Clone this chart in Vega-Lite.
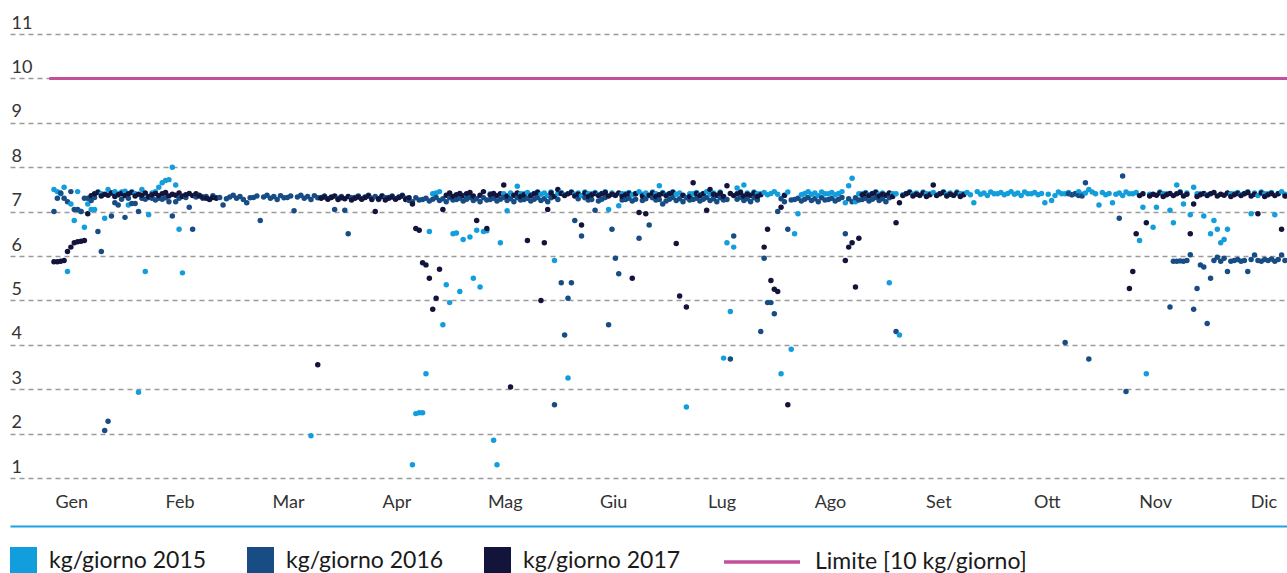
{
"$schema":"https://vega.github.io/schema/vega-lite/v6.json",
"width":1277,"height":444,
"autosize":{"type":"none"},
"padding":{"left":10,"top":34,"right":0,"bottom":95},
"background":"white",
"config":{"view":{"stroke":null},"font":"Lato"},
"datasets":{
"giorni":[
{"d":1,"a":7.50,"b":7.00,"c":5.87},{"d":2,"a":7.45,"b":7.30,"c":5.87},{"d":3,"a":7.40,"b":7.42,"c":5.88},{"d":4,"a":7.55,"b":7.30,"c":5.90},{"d":5,"a":5.65,"b":7.22,"c":6.10},
{"d":6,"a":7.17,"b":7.45,"c":6.20},{"d":7,"a":6.80,"b":7.05,"c":6.30},{"d":8,"a":7.45,"b":7.05,"c":6.32},{"d":9,"a":7.00,"b":7.00,"c":6.33},{"d":10,"a":6.65,"b":7.30,"c":6.35},
{"d":11,"a":7.17,"b":7.30,"c":6.95},{"d":12,"a":7.05,"b":7.25,"c":7.36},{"d":13,"a":7.05,"b":7.32,"c":7.40},{"d":14,"a":7.45,"b":6.55,"c":7.43},{"d":15,"a":7.40,"b":6.10,"c":7.35},
{"d":16,"a":6.85,"b":2.07,"c":7.39},{"d":17,"a":7.50,"b":2.28,"c":7.37},{"d":18,"a":7.42,"b":6.90,"c":7.42},{"d":19,"a":7.45,"b":7.20,"c":7.34},{"d":20,"a":7.40,"b":7.15,"c":7.38},
{"d":21,"a":7.44,"b":7.28,"c":7.41},{"d":22,"a":7.46,"b":6.87,"c":7.36},{"d":23,"a":7.15,"b":7.30,"c":7.40},{"d":24,"a":7.45,"b":7.18,"c":7.43},{"d":25,"a":7.40,"b":7.18,"c":7.35},
{"d":26,"a":2.93,"b":7.00,"c":7.39},{"d":27,"a":7.50,"b":7.30,"c":7.37},{"d":28,"a":5.65,"b":7.28,"c":7.42},{"d":29,"a":6.93,"b":7.32,"c":7.34},{"d":30,"a":7.42,"b":7.30,"c":7.38},
{"d":31,"a":7.45,"b":7.26,"c":7.41},{"d":32,"a":7.55,"b":7.30,"c":7.36},{"d":33,"a":7.65,"b":7.28,"c":7.40},{"d":34,"a":7.70,"b":7.31,"c":7.43},{"d":35,"a":7.72,"b":7.22,"c":7.35},
{"d":36,"a":8.00,"b":6.90,"c":7.39},{"d":37,"a":7.60,"b":7.22,"c":7.37},{"d":38,"a":6.60,"b":7.30,"c":7.42},{"d":39,"a":5.62,"b":7.35,"c":7.34},{"d":40,"b":7.32,"c":7.38},
{"d":41,"b":7.10,"c":7.41},{"d":42,"b":6.60,"c":7.36},{"d":43,"b":7.33,"c":7.40},{"d":44,"b":7.37,"c":7.35},{"d":45,"b":7.30,"c":7.33},
{"d":46,"b":7.34,"c":7.30},{"d":47,"b":7.27,"c":7.28},{"d":48,"b":7.36,"c":7.32},{"d":49,"b":7.31,"c":7.30},{"d":50,"b":7.32},
{"d":51,"b":7.15},{"d":52,"b":7.29},{"d":53,"b":7.33},{"d":54,"b":7.37},{"d":55,"b":7.30},
{"d":56,"b":7.34},{"d":57,"b":7.27},{"d":58,"b":7.20},{"d":59,"b":7.31},{"d":60,"b":7.32},
{"d":61,"b":7.35},{"d":62,"b":6.80},{"d":63,"b":7.33},{"d":64,"b":7.37},{"d":65,"b":7.30},
{"d":66,"b":7.34},{"d":67,"b":7.27},{"d":68,"b":7.36},{"d":69,"b":7.31},{"d":70,"b":7.32},
{"d":71,"b":7.35},{"d":72,"b":7.02},{"d":73,"b":7.33},{"d":74,"b":7.37},{"d":75,"b":7.30},
{"d":76,"b":7.34},{"d":77,"a":1.95,"b":7.27},{"d":78,"b":7.36},{"d":79,"b":7.31,"c":3.55},{"d":80,"b":7.32,"c":7.30},
{"d":81,"b":7.35,"c":7.33},{"d":82,"b":7.29,"c":7.28},{"d":83,"b":7.33,"c":7.32},{"d":84,"b":7.05,"c":7.35},{"d":85,"b":7.30,"c":7.27},
{"d":86,"b":7.34,"c":7.31},{"d":87,"b":7.03,"c":7.29},{"d":88,"b":6.50,"c":7.34},{"d":89,"b":7.31,"c":7.26},{"d":90,"b":7.32,"c":7.30},
{"d":91,"b":7.35,"c":7.33},{"d":92,"b":7.29,"c":7.28},{"d":93,"b":7.33,"c":7.32},{"d":94,"b":7.37,"c":7.35},{"d":95,"b":7.30,"c":7.27},
{"d":96,"b":7.34,"c":7.00},{"d":97,"b":7.27,"c":7.29},{"d":98,"b":7.36,"c":7.34},{"d":99,"b":7.31,"c":7.26},{"d":100,"b":7.32,"c":7.30},
{"d":101,"b":7.35,"c":7.33},{"d":102,"b":7.29,"c":7.28},{"d":103,"b":7.33,"c":7.32},{"d":104,"b":7.37,"c":7.35},{"d":105,"b":7.30,"c":7.27},
{"d":106,"b":7.25,"c":7.31},{"d":107,"a":1.30,"b":7.22,"c":7.17},{"d":108,"a":2.45,"b":7.31,"c":6.62},{"d":109,"a":2.47,"b":7.26,"c":6.58},{"d":110,"a":2.47,"b":7.27,"c":5.85},
{"d":111,"a":3.35,"b":7.30,"c":5.80},{"d":112,"a":6.55,"b":7.24,"c":5.50},{"d":113,"a":7.40,"b":7.28,"c":4.80},{"d":114,"a":7.42,"b":7.32,"c":5.05},{"d":115,"a":7.45,"b":7.25,"c":5.70},
{"d":116,"a":4.45,"b":7.29,"c":7.05},{"d":117,"a":5.35,"b":7.22,"c":7.37},{"d":118,"a":4.95,"b":7.31,"c":7.42},{"d":119,"a":6.50,"b":7.26,"c":7.34},{"d":120,"a":6.52,"b":7.27,"c":7.38},
{"d":121,"a":5.20,"b":7.30,"c":7.41},{"d":122,"a":6.37,"b":7.24,"c":7.36},{"d":123,"a":7.38,"b":7.28,"c":7.40},{"d":124,"a":6.43,"b":7.32,"c":7.43},{"d":125,"a":5.50,"b":7.25,"c":7.35},
{"d":126,"a":6.58,"b":7.29,"c":6.80},{"d":127,"a":5.30,"b":7.22,"c":7.37},{"d":128,"a":6.55,"b":7.31,"c":7.45},{"d":129,"a":6.57,"b":7.26,"c":6.62},{"d":130,"a":7.40,"b":7.27,"c":7.38},
{"d":131,"a":1.85,"b":7.30,"c":7.41},{"d":132,"a":1.30,"b":7.24,"c":7.36},{"d":133,"a":6.30,"b":7.28,"c":7.40},{"d":134,"a":7.40,"b":7.32,"c":7.60},{"d":135,"a":7.02,"b":7.25,"c":7.35},
{"d":136,"a":7.42,"b":7.29,"c":3.05},{"d":137,"a":7.36,"b":7.22,"c":7.37},{"d":138,"a":7.57,"b":7.31,"c":7.42},{"d":139,"a":7.40,"b":7.26,"c":7.34},{"d":140,"a":7.40,"b":7.27,"c":7.38},
{"d":141,"a":7.43,"b":7.30,"c":6.35},{"d":142,"a":7.38,"b":7.24,"c":7.36},{"d":143,"a":7.41,"b":7.28,"c":7.40},{"d":144,"a":7.45,"b":7.32,"c":7.43},{"d":145,"a":7.39,"b":7.25,"c":5.00},
{"d":146,"a":7.42,"b":7.29,"c":6.30},{"d":147,"a":7.36,"b":7.22,"c":7.05},{"d":148,"a":7.44,"b":7.31,"c":7.42},{"d":149,"a":5.90,"b":2.65,"c":7.34},{"d":150,"a":7.40,"b":7.27,"c":7.50},
{"d":151,"a":7.43,"b":5.40,"c":7.41},{"d":152,"a":7.38,"b":4.22,"c":7.36},{"d":153,"a":3.25,"b":5.05,"c":7.40},{"d":154,"a":7.45,"b":5.40,"c":7.43},{"d":155,"a":7.39,"b":6.80,"c":7.35},
{"d":156,"a":7.42,"b":7.29,"c":7.39},{"d":157,"a":7.36,"b":6.45,"c":6.70},{"d":158,"a":7.44,"b":7.31,"c":7.42},{"d":159,"a":7.40,"b":7.26,"c":7.34},{"d":160,"a":7.40,"b":7.27,"c":7.38},
{"d":161,"a":7.43,"b":7.03,"c":7.41},{"d":162,"a":7.38,"b":7.24,"c":7.36},{"d":163,"a":7.41,"b":7.28,"c":7.40},{"d":164,"a":7.45,"b":7.32,"c":7.43},{"d":165,"a":7.05,"b":4.45,"c":7.35},
{"d":166,"a":7.42,"b":6.60,"c":7.39},{"d":167,"a":7.36,"b":5.95,"c":7.37},{"d":168,"a":7.13,"b":5.60,"c":7.42},{"d":169,"a":7.40,"b":7.26,"c":7.34},{"d":170,"a":7.40,"b":7.27,"c":7.38},
{"d":171,"a":7.43,"b":7.30,"c":7.41},{"d":172,"a":7.38,"b":7.24,"c":5.50},{"d":173,"a":7.41,"b":7.28,"c":7.40},{"d":174,"a":7.45,"b":6.40,"c":6.98},{"d":175,"a":7.39,"b":7.25,"c":7.35},
{"d":176,"a":7.42,"b":7.29,"c":6.95},{"d":177,"a":7.36,"b":6.70,"c":7.37},{"d":178,"a":7.44,"b":7.31,"c":7.42},{"d":179,"a":7.40,"b":7.26,"c":7.34},{"d":180,"a":7.58,"b":7.27,"c":7.38},
{"d":181,"a":7.43,"b":7.17,"c":7.41},{"d":182,"a":7.38,"b":7.24,"c":7.36},{"d":183,"a":7.41,"b":7.28,"c":7.40},{"d":184,"a":7.45,"b":7.32,"c":7.43},{"d":185,"a":7.39,"b":7.25,"c":6.28},
{"d":186,"a":7.42,"b":7.29,"c":5.10},{"d":187,"a":7.36,"b":7.22,"c":7.37},{"d":188,"a":2.60,"b":7.31,"c":4.85},{"d":189,"a":7.40,"b":7.26,"c":7.34},{"d":190,"a":7.40,"b":7.27,"c":7.65},
{"d":191,"a":7.43,"b":7.30,"c":7.41},{"d":192,"a":7.38,"b":7.24,"c":7.36},{"d":193,"a":7.41,"b":7.28,"c":7.40},{"d":194,"a":7.45,"b":7.32,"c":7.03},{"d":195,"a":7.39,"b":7.25,"c":7.50},
{"d":196,"a":7.42,"b":7.29,"c":7.39},{"d":197,"a":7.36,"b":7.22,"c":7.37},{"d":198,"a":7.44,"b":7.31,"c":7.42},{"d":199,"a":3.70,"b":7.26,"c":7.34},{"d":200,"a":6.30,"b":7.27,"c":7.58},
{"d":201,"a":4.75,"b":3.68,"c":7.41},{"d":202,"a":6.20,"b":6.45,"c":7.36},{"d":203,"a":7.53,"b":7.28,"c":7.40},{"d":204,"a":7.45,"b":7.32,"c":7.43},{"d":205,"a":7.60,"b":7.25,"c":7.35},
{"d":206,"a":7.42,"b":7.29,"c":7.39},{"d":207,"a":7.36,"b":7.22,"c":7.37},{"d":208,"a":7.44,"b":7.31,"c":7.42},{"d":209,"a":7.40,"b":7.26,"c":7.34},{"d":210,"a":7.40,"b":4.30,"c":7.38},
{"d":211,"a":7.43,"b":5.95,"c":6.20},{"d":212,"a":7.38,"b":4.95,"c":6.60},{"d":213,"a":7.41,"b":4.95,"c":5.45},{"d":214,"a":7.45,"b":4.70,"c":5.25},{"d":215,"a":7.39,"b":7.00,"c":5.20},
{"d":216,"a":3.35,"b":7.29,"c":7.10},{"d":217,"a":7.36,"b":7.22,"c":7.37},{"d":218,"a":7.44,"b":6.60,"c":2.65},{"d":219,"a":3.90,"b":7.26},{"d":220,"a":6.50,"b":7.27},
{"d":221,"a":6.95,"b":7.30},{"d":222,"a":7.38,"b":7.24},{"d":223,"a":7.41,"b":7.28},{"d":224,"a":7.45,"b":7.32},{"d":225,"a":7.39,"b":7.25},
{"d":226,"a":7.42,"b":7.29},{"d":227,"a":7.36,"b":7.22},{"d":228,"a":7.44,"b":7.31},{"d":229,"a":7.40,"b":7.26},{"d":230,"a":7.40,"b":7.27},
{"d":231,"a":7.43,"b":7.30},{"d":232,"a":7.38,"b":7.24},{"d":233,"a":7.41,"b":7.28},{"d":234,"a":7.45,"b":7.32},{"d":235,"a":7.20,"b":6.50,"c":5.90},
{"d":236,"a":7.58,"b":7.29,"c":6.20},{"d":237,"a":7.75,"b":7.22,"c":6.30},{"d":238,"a":7.22,"b":7.31,"c":5.30},{"d":239,"a":7.40,"b":7.26,"c":6.40},{"d":240,"a":7.40,"b":7.27,"c":7.38},
{"d":241,"a":7.43,"b":7.30,"c":7.41},{"d":242,"a":7.38,"b":7.24,"c":7.36},{"d":243,"a":7.41,"b":7.28,"c":7.40},{"d":244,"a":7.45,"b":7.32,"c":7.43},{"d":245,"a":7.39,"b":7.25,"c":7.35},
{"d":246,"a":7.42,"b":7.29,"c":7.39},{"d":247,"a":7.36,"b":7.22,"c":7.37},{"d":248,"a":5.40,"b":7.31,"c":7.42},{"d":249,"a":7.40,"c":7.34},{"d":250,"a":7.40,"b":4.30,"c":6.75},
{"d":251,"a":4.22,"c":7.20},{"d":252,"a":7.38,"c":7.36},{"d":253,"a":7.41,"c":7.40},{"d":254,"a":7.45,"c":7.43},{"d":255,"a":7.39,"c":7.35},
{"d":256,"a":7.42,"c":7.39},{"d":257,"a":7.36,"c":7.37},{"d":258,"a":7.44,"c":7.42},{"d":259,"a":7.40,"c":7.34},{"d":260,"a":7.40,"c":7.38},
{"d":261,"a":7.43,"c":7.60},{"d":262,"a":7.38,"c":7.36},{"d":263,"a":7.41,"c":7.40},{"d":264,"a":7.45,"c":7.43},{"d":265,"a":7.39,"c":7.35},
{"d":266,"a":7.42,"c":7.39},{"d":267,"a":7.36,"c":7.37},{"d":268,"a":7.44,"c":7.42},{"d":269,"a":7.40,"c":7.34},{"d":270,"a":7.40,"c":7.38},
{"d":271,"a":7.43},{"d":272,"a":7.38},{"d":273,"a":7.20},{"d":274,"a":7.45},{"d":275,"a":7.39},
{"d":276,"a":7.42},{"d":277,"a":7.36},{"d":278,"a":7.44},{"d":279,"a":7.40},{"d":280,"a":7.40},
{"d":281,"a":7.43},{"d":282,"a":7.38},{"d":283,"a":7.41},{"d":284,"a":7.45},{"d":285,"a":7.39},
{"d":286,"a":7.42},{"d":287,"a":7.36},{"d":288,"a":7.44},{"d":289,"a":7.40},{"d":290,"a":7.40},
{"d":291,"a":7.43},{"d":292,"a":7.38},{"d":293,"a":7.41},{"d":294,"a":7.20},{"d":295,"a":7.39},
{"d":296,"a":7.25},{"d":297,"a":7.36},{"d":298,"a":7.44},{"d":299,"a":7.40},{"d":300,"a":7.40,"b":4.05},
{"d":301,"a":7.43,"b":7.40},{"d":302,"a":7.38,"b":7.38},{"d":303,"a":7.41,"b":7.40},{"d":304,"a":7.45,"b":7.36},{"d":305,"a":7.39,"b":7.35},
{"d":306,"a":7.42,"b":7.65},{"d":307,"a":7.50,"b":3.68},{"d":308,"a":7.44},{"d":309,"a":7.40},{"d":310,"a":7.15},
{"d":311,"a":7.43},{"d":312,"a":7.38},{"d":313,"a":7.41},{"d":314,"a":7.20},{"d":315,"a":7.39},
{"d":316,"a":7.42,"b":6.85},{"d":317,"a":7.36,"b":7.80},{"d":318,"a":7.44,"b":2.95},{"d":319,"a":7.40,"c":5.27},{"d":320,"a":7.40,"c":5.65},
{"d":321,"a":7.43,"c":6.50},{"d":322,"a":6.35,"c":7.36},{"d":323,"a":7.10,"c":7.40},{"d":324,"a":3.35,"c":6.75},{"d":325,"a":7.39,"c":7.35},
{"d":326,"a":6.65,"c":7.39},{"d":327,"a":7.10,"c":7.37},{"d":328,"a":7.44,"c":7.42},{"d":329,"a":7.40,"c":7.34},{"d":330,"a":7.40,"c":7.38},
{"d":331,"a":7.03,"b":4.85,"c":7.41},{"d":332,"a":6.75,"b":5.88,"c":7.36},{"d":333,"a":7.60,"b":5.88,"c":7.40},{"d":334,"a":7.45,"b":5.89,"c":7.43},{"d":335,"a":7.17,"b":5.88,"c":7.35},
{"d":336,"a":7.42,"b":5.90,"c":7.39},{"d":337,"a":6.93,"b":6.03,"c":6.50},{"d":338,"a":7.55,"b":4.80,"c":7.17},{"d":339,"a":7.40,"b":5.27,"c":7.34},{"d":340,"a":7.40,"b":5.80,"c":7.38},
{"d":341,"a":6.90,"b":5.75,"c":7.41},{"d":342,"a":7.38,"b":4.48,"c":7.36},{"d":343,"a":6.50,"b":5.50,"c":7.40},{"d":344,"a":6.80,"b":5.90,"c":7.43},{"d":345,"a":6.60,"b":5.97,"c":7.35},
{"d":346,"a":6.30,"b":5.88,"c":7.39},{"d":347,"a":6.37,"b":5.95,"c":7.37},{"d":348,"a":6.60,"b":5.65,"c":7.42},{"d":349,"a":7.40,"b":5.88,"c":7.34},{"d":350,"a":7.40,"b":5.90,"c":7.38},
{"d":351,"a":7.43,"b":5.92,"c":7.41},{"d":352,"a":7.38,"b":5.88,"c":7.36},{"d":353,"a":7.41,"b":5.90,"c":7.40},{"d":354,"a":7.45,"b":5.65,"c":7.43},{"d":355,"a":6.95,"b":5.92,"c":7.35},
{"d":356,"a":7.42,"b":6.02,"c":7.39},{"d":357,"a":7.36,"b":5.90,"c":6.95},{"d":358,"a":7.44,"b":5.88,"c":7.42},{"d":359,"a":7.40,"b":5.92,"c":7.34},{"d":360,"a":7.40,"b":5.90,"c":7.38},
{"d":361,"a":7.43,"b":5.93,"c":7.41},{"d":362,"a":6.93,"b":5.88,"c":7.36},{"d":363,"a":7.41,"b":5.92,"c":7.40},{"d":364,"a":7.45,"b":6.02,"c":6.60},{"d":365,"a":7.39,"b":5.90,"c":7.35}
],
"limite":[{"x0":-0.4,"x1":365.6,"lim":10,"name":"Limite [10 kg/giorno]"}]
},
"layer":[
{
"data":{"name":"giorni"},
"transform":[{"fold":["a","b","c"],"as":["k","v"]},{"filter":"isValid(datum.v)"}],
"mark":{"type":"point","filled":true,"size":30,"opacity":1},
"encoding":{
"x":{"field":"d","type":"quantitative","scale":{"domain":[-12,365.6],"nice":false,"zero":false},
"axis":{"title":null,"orient":"bottom","offset":48,"values":[6.1,38.15,70.2,102.25,134.3,166.35,198.4,230.45,262.5,294.55,326.6,358.65],
"labelExpr":"['Gen','Feb','Mar','Apr','Mag','Giu','Lug','Ago','Set','Ott','Nov','Dic'][round((datum.value-6.1)/32.05)]",
"grid":false,"ticks":false,"tickSize":0,"domain":true,"domainColor":"#1ea2e6","domainWidth":2,
"labelPadding":-19,"labelBaseline":"alphabetic","labelFont":"Lato","labelFontSize":18,"labelColor":"#333333","labelFlush":false,"labelOverlap":false,"labelBound":false}},
"y":{"field":"v","type":"quantitative","scale":{"domain":[1,11],"nice":false,"zero":false},
"axis":{"title":null,"values":[1,2,3,4,5,6,7,8,9,10,11],"grid":true,"gridColor":"#9a9a9a","gridDash":[5,4],"gridWidth":1.3,
"domain":false,"ticks":false,"tickSize":0,"labelAlign":"left","labelBaseline":"alphabetic","labelPadding":-1,"labelOffset":-6,
"labelFont":"Lato","labelFontSize":18,"labelColor":"#333333","labelFlush":false,"labelOverlap":false,"labelBound":false}},
"color":{"field":"k","type":"nominal","scale":{"domain":["a","b","c"],"range":["#129edc","#174d84","#12143c"]},
"legend":{"title":null,"orient":"none","legendX":0,"legendY":513,"direction":"horizontal","symbolType":"square","symbolSize":729,
"symbolStrokeWidth":0,"symbolOpacity":1,"labelFont":"Lato","labelFontSize":23,"labelColor":"#1a1a1a","labelOffset":12,"columnPadding":40,"padding":0,"labelLimit":400,
"labelExpr":"datum.value=='a' ? 'kg/giorno 2015' : datum.value=='b' ? 'kg/giorno 2016' : 'kg/giorno 2017'"}}
}
},
{
"data":{"name":"limite"},
"mark":{"type":"rule","strokeWidth":3},
"encoding":{
"x":{"field":"x0","type":"quantitative"},
"x2":{"field":"x1"},
"y":{"field":"lim","type":"quantitative"},
"stroke":{"field":"name","type":"nominal","scale":{"range":["#c2509b"]},
"legend":{"title":null,"orient":"none","legendX":712,"legendY":488,"symbolType":"stroke","symbolSize":5776,"symbolStrokeWidth":3.5,
"labelFont":"Lato","labelFontSize":23,"labelColor":"#1a1a1a","labelOffset":13,"padding":0,"labelLimit":400}}
}
}
]
}
